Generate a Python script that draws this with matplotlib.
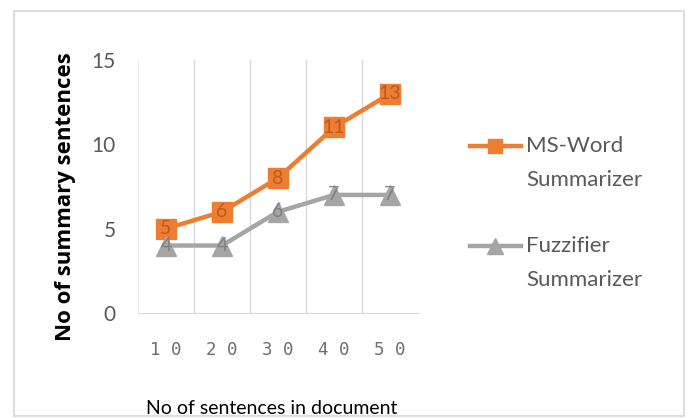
import matplotlib
matplotlib.use("Agg")
import matplotlib.pyplot as plt
from matplotlib.lines import Line2D
from matplotlib.patches import Rectangle

categories = ["10", "20", "30", "40", "50"]
ms_word = [5, 6, 8, 11, 13]
fuzzifier = [4, 4, 6, 7, 7]
series_names = ["MS-Word\nSummarizer", "Fuzzifier\nSummarizer"]
y_ticks = [0, 5, 10, 15]

ORANGE = "#ED7D31"
GREY = "#A5A5A5"
TXT = "#595959"
GRID = "#D9D9D9"
FONT = ["Lato", "DejaVu Sans"]

plt.rcParams["font.family"] = FONT

fig = plt.figure(figsize=(6.88, 4.18), dpi=100)
ax = fig.add_axes([138 / 688, 1 - 313 / 418, 280 / 688, 253 / 418])

x = list(range(len(categories)))
styles = [
    dict(color=ORANGE, marker="s", ms=14, lw=3.2, lab="#B5541C", lms=10),
    dict(color=GREY, marker="^", ms=15, lw=3.2, lab="#7A7A7A", lms=11),
]
for vals, st in zip([ms_word, fuzzifier], styles):
    ax.plot(x, vals, color=st["color"], lw=st["lw"], marker=st["marker"],
            ms=st["ms"], mec=st["color"], mfc=st["color"], zorder=3,
            solid_joinstyle="round")
    for xi, v in zip(x, vals):
        ax.text(xi, v, str(v), ha="center", va="center", fontsize=14,
                color=st["lab"], zorder=4, alpha=0.85)

ax.set_xlim(-0.5, len(categories) - 0.5)
ax.set_ylim(0, 15)
ax.set_yticks(y_ticks)
ax.set_yticklabels([str(t) for t in y_ticks], fontsize=15, color=TXT)
ax.set_xticks(x)
ax.set_xticklabels([" ".join(c) for c in categories], fontsize=12.5,
                   color="#6E6E6E", family=["DejaVu Sans Mono", "DejaVu Sans"])
ax.tick_params(axis="y", length=0, pad=16)
ax.tick_params(axis="x", length=0, pad=20)

for b in [0.5, 1.5, 2.5, 3.5]:
    ax.axvline(b, color=GRID, lw=1, zorder=1)
for s in ["top", "right"]:
    ax.spines[s].set_visible(False)
ax.spines["bottom"].set_color(GRID)
ax.spines["left"].set_color("#EBEBEB")

ax.set_ylabel("No of summary sentences", fontsize=16, fontweight="bold",
              color="black", family=["Open Sans", "DejaVu Sans"])
ax.yaxis.set_label_coords(-0.22, 0.46)
fig.text(272 / 688, 1 - 408 / 418, "No of sentences in document",
         ha="center", va="center", fontsize=14, color="black")

# legend (manual, handles aligned with first line)
for i, (name, st) in enumerate(zip(series_names, styles)):
    yc = 1 - (146 + 100 * i) / 418
    fig.add_artist(Line2D([470 / 688, 521 / 688], [yc, yc], color=st["color"],
                          lw=st["lw"], transform=fig.transFigure))
    fig.add_artist(Line2D([495 / 688], [yc], color=st["color"], marker=st["marker"],
                          ms=st["lms"], mec=st["color"], mfc=st["color"],
                          transform=fig.transFigure))
    fig.text(526 / 688, yc + 10 / 418, name, ha="left", va="top", fontsize=16,
             color=TXT, linespacing=1.88)

fig.add_artist(Rectangle((14 / 688, 2 / 418), 670 / 688, 405 / 418,
                         transform=fig.transFigure, fill=False,
                         edgecolor="#DDDDDD", lw=1.5))

fig.savefig("out.png", dpi=100)
